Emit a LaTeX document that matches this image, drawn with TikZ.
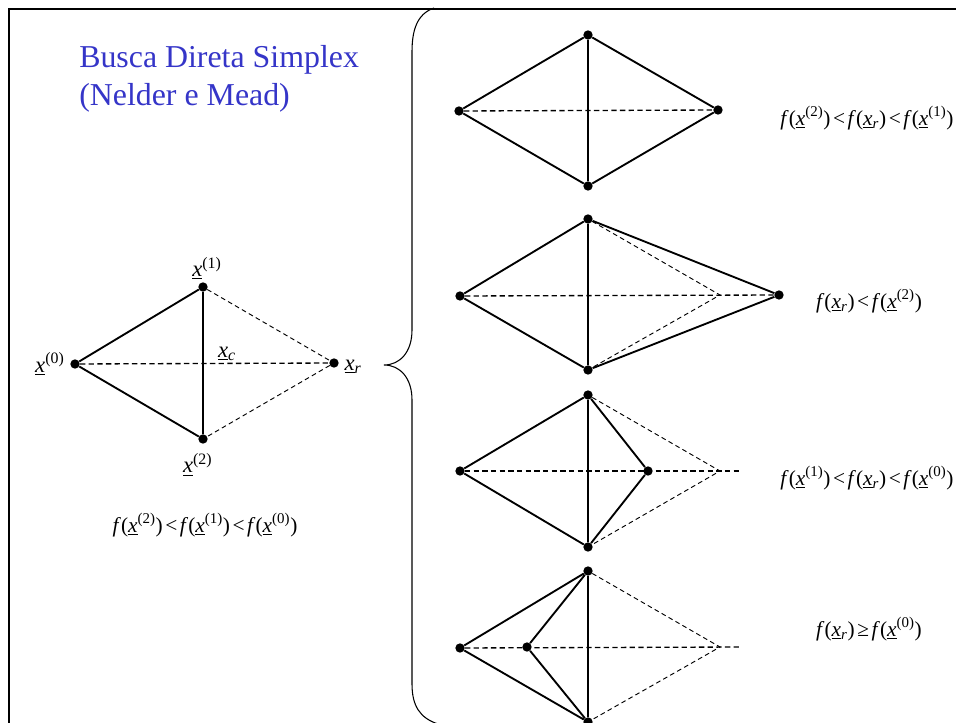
\documentclass[tikz,border=0pt]{standalone}
\usepackage{fontspec}
\setmainfont{Liberation Serif}
\usetikzlibrary{positioning}
\definecolor{titleblue}{HTML}{3535C8}
\newcommand{\ux}{\underline{\textit{x}}}
\newcommand{\xk}[1]{\ux\textsuperscript{(#1)}}
\newcommand{\xs}[1]{\ux\textsubscript{\textit{#1}}}
\newcommand{\fn}{\textit{f}}
\newcommand{\lessrel}{\hspace{0.12em}<\hspace{0.12em}}
\newcommand{\geqrel}{\hspace{0.12em}≥\hspace{0.12em}}

\begin{document}
\begin{tikzpicture}[
    x=0.75pt, y=-0.75pt,
    vertex/.style={circle, fill, inner sep=0pt, minimum size=7pt},
    side/.style={line width=1.4pt},
    guide/.style={line width=1pt, dash pattern=on 4pt off 2.5pt},
    faint/.style={line width=0.7pt, dash pattern=on 3.5pt off 2.5pt},
    lab/.style={font=\fontsize{17}{20}\selectfont, inner sep=1pt},
    cond/.style={font=\fontsize{16}{19}\selectfont, inner sep=0pt}
]
\useasboundingbox (0,0) rectangle (956,723);

% Frame
\draw[line width=2.2pt] (9,735) -- (9,9) -- (970,9);

% Title
\node[anchor=north west, inner sep=0pt, align=left, text=titleblue,
      font=\fontsize{23.9}{28.5}\selectfont] (title) at (79,45)
      {Busca Direta Simplex\\(Nelder e Mead)};

% Initial simplex
\node[vertex] (p0) at (75,364) {};
\node[vertex] (p1) at (203,287) {};
\node[vertex] (p2) at (203,439) {};
\node[vertex] (pr) at (334,363) {};
\node[lab, left=3pt of p0] (l0) {\xk{0}};
\node[lab, above=1pt of p1, xshift=3pt] (l1) {\xk{1}};
\node[lab, below=6pt of p2, xshift=-4pt] (l2) {\xk{2}};
\node[lab, right=3pt of pr, yshift=-3pt] (lr) {\xs{r}};
\node[lab] (lc) at (227,354) {\xs{c}};
\node[cond] (cond0) at (205,525) {\fn(\xk{2})\lessrel\fn(\xk{1})\lessrel\fn(\xk{0})};

\draw[side] (p1) -- (p0) -- (p2) -- (p1);
\draw[guide] (p0) -- (pr);
\draw[faint] (p1) -- (pr) -- (p2);

% Brace
\draw[line width=0.8pt] (434,8) .. controls (417,14) and (412,30) .. (412,52)
    -- (412,330) .. controls (412,352) and (400,365) .. (384,365)
    .. controls (400,365) and (412,378) .. (412,400)
    -- (412,684) .. controls (412,706) and (420,718) .. (438,724);

% Expansion candidate
\node[vertex] (a0) at (459,111) {};
\node[vertex] (a1) at (588,35) {};
\node[vertex] (a2) at (588,186) {};
\node[vertex] (ar) at (718,110) {};
\draw[side] (a1) -- (a0) -- (a2) -- (a1) -- (ar) -- (a2);
\draw[guide] (a0) -- (ar);
\node[cond] (conda) at (867,118) {\fn(\xk{2})\lessrel\fn(\xs{r})\lessrel\fn(\xk{1})};

% Expansion
\node[vertex] (b0) at (460,296) {};
\node[vertex] (b1) at (588,219) {};
\node[vertex] (b2) at (588,370) {};
\node[vertex] (be) at (779,295) {};
\coordinate (br) at (720,295);
\draw[side] (b1) -- (b0) -- (b2) -- (b1) -- (be) -- (b2);
\draw[guide] (b0) -- (be);
\draw[faint] (b1) -- (br) -- (b2);
\node[cond] (condb) at (869,301) {\fn(\xs{r})\lessrel\fn(\xk{2})};

% Contraction outside
\node[vertex] (c0) at (460,471) {};
\node[vertex] (c1) at (588,395) {};
\node[vertex] (c2) at (588,547) {};
\node[vertex] (cc) at (648,471) {};
\coordinate (cr) at (720,471);
\coordinate (ce) at (740,471);
\draw[side] (c1) -- (c0) -- (c2) -- (c1) -- (cc) -- (c2);
\draw[guide] (c0) -- (ce);
\draw[faint] (c1) -- (cr) -- (c2);
\node[cond] (condc) at (867,478) {\fn(\xk{1})\lessrel\fn(\xs{r})\lessrel\fn(\xk{0})};

% Contraction inside
\node[vertex] (d0) at (460,648) {};
\node[vertex] (d1) at (588,571) {};
\node[vertex] (d2) at (588,722) {};
\node[vertex] (dc) at (527,647) {};
\coordinate (dr) at (720,647);
\coordinate (de) at (740,647);
\draw[side] (d1) -- (d0) -- (d2) -- (d1) -- (dc) -- (d2);
\draw[guide] (d0) -- (de);
\draw[faint] (d1) -- (dr) -- (d2);
\node[cond] (condd) at (869,629) {\fn(\xs{r})\geqrel\fn(\xk{0})};

\end{tikzpicture}
\end{document}
